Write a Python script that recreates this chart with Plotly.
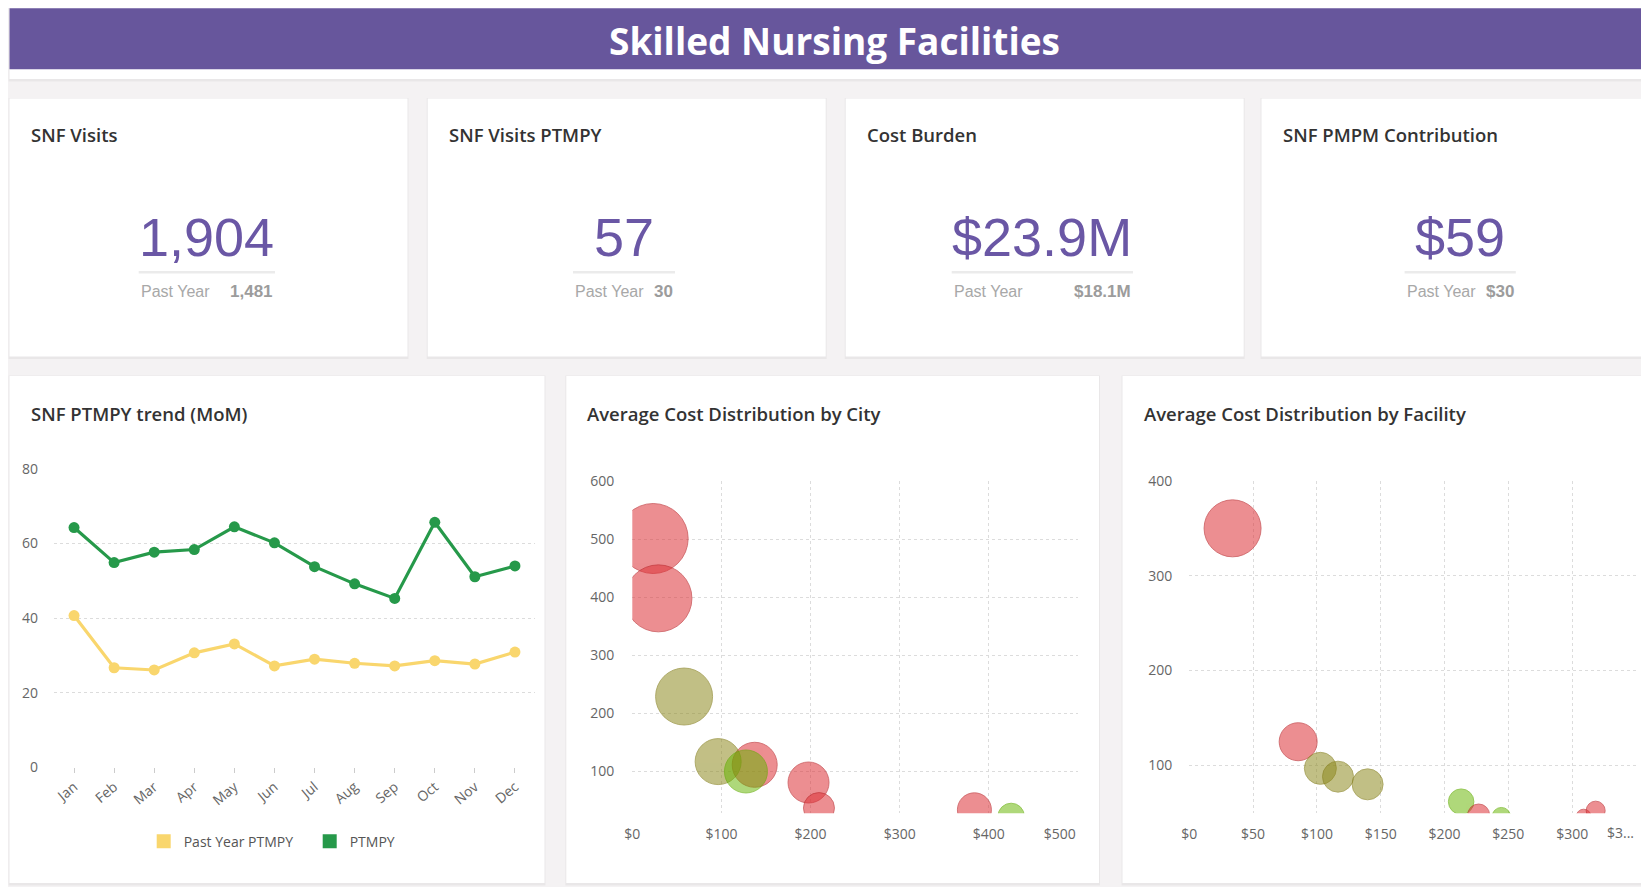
import plotly.graph_objects as go

W, H = 1649, 887
OX, OY = 8, 8  # page body offset of the figure


def px(x):
    return (x - OX) / W


def py(y):
    return 1 - (y - OY) / H


# ---------------- data ----------------
months = ["Jan", "Feb", "Mar", "Apr", "May", "Jun", "Jul", "Aug", "Sep", "Oct", "Nov", "Dec"]
ptmpy = [64.3, 54.9, 57.7, 58.4, 64.5, 60.2, 53.8, 49.2, 45.3, 65.7, 51.1, 54.0]
past_year_ptmpy = [40.7, 26.7, 26.1, 30.7, 33.1, 27.2, 29.0, 27.9, 27.2, 28.6, 27.7, 30.9]

kpi_titles = ["SNF Visits", "SNF Visits PTMPY", "Cost Burden", "SNF PMPM Contribution"]
kpi_values = ["1,904", "57", "$23.9M", "$59"]
kpi_past = ["1,481", "30", "$18.1M", "$30"]

city_cost = [23.4, 29.3, 137.3, 197.7, 209.4, 383.8, 58.1, 96.3, 127.5, 425.0]
city_value = [501, 398, 111.5, 81, 37, 34, 229, 117, 100, 22.6]
city_size = [70, 67, 45, 41, 31, 34, 57, 46, 43, 26.5]
city_tier = ["high", "high", "high", "high", "high", "high", "mid", "mid", "low", "low"]
city_xticks = [0, 100, 200, 300, 400, 500]
city_xlabels = ["$0", "$100", "$200", "$300", "$400", "$500"]
city_yticks = [100, 200, 300, 400, 500, 600]

fac_cost = [33.9, 85.3, 102.7, 116.5, 139.7, 213.0, 226.7, 244.5, 309.0, 318.4]
fac_value = [350, 124.6, 96.5, 87.7, 79.6, 61.3, 47.2, 45.4, 45.4, 51.8]
fac_size = [57, 38, 32, 31, 31, 25.5, 22, 18.5, 15, 19]
fac_tier = ["high", "high", "mid", "mid", "mid", "low", "high", "low", "high", "high"]
fac_xticks = [0, 50, 100, 150, 200, 250, 300, 350]
fac_xlabels = ["$0", "$50", "$100", "$150", "$200", "$250", "$300", "$3..."]
fac_yticks = [100, 200, 300, 400]

# ---------------- styles ----------------
FONT = "Open Sans"
NUMFONT = "Liberation Sans"
PURPLE = "#67569c"
NUMCOL = "#6a57a5"
GREEN = "#26994a"
YELLOW = "#f9d66d"
BG = "#f4f2f3"
TIER_FILL = {"high": "rgba(220,50,55,0.78)", "mid": "rgba(141,135,28,0.76)", "low": "rgba(101,181,0,0.74)"}
TIER_LINE = {"high": "rgba(185,35,40,0.85)", "mid": "rgba(130,124,25,0.85)", "low": "rgba(95,170,0,0.85)"}
GRID = "#dcdcdc"
TICKFONT = dict(family=FONT, size=14, color="#666666")

fig = go.Figure()

# line chart
fig.add_trace(go.Scatter(x=months, y=past_year_ptmpy, mode="lines+markers", name="Past Year PTMPY",
                         line=dict(color=YELLOW, width=3.2), marker=dict(size=11, color=YELLOW),
                         showlegend=False, xaxis="x", yaxis="y"))
fig.add_trace(go.Scatter(x=months, y=ptmpy, mode="lines+markers", name="PTMPY",
                         line=dict(color=GREEN, width=3.2), marker=dict(size=11, color=GREEN),
                         showlegend=False, xaxis="x", yaxis="y"))
# legend entries (square swatches)
fig.add_trace(go.Scatter(x=[None], y=[None], mode="markers", name="Past Year PTMPY",
                         marker=dict(symbol="square", size=14, color=YELLOW), xaxis="x", yaxis="y"))
fig.add_trace(go.Scatter(x=[None], y=[None], mode="markers", name="PTMPY",
                         marker=dict(symbol="square", size=14, color=GREEN), xaxis="x", yaxis="y"))

# bubble charts
fig.add_trace(go.Scatter(x=city_cost, y=city_value, mode="markers", showlegend=False,
                         marker=dict(size=city_size, color=[TIER_FILL[t] for t in city_tier],
                                     line=dict(width=1, color=[TIER_LINE[t] for t in city_tier])),
                         xaxis="x2", yaxis="y2"))
fig.add_trace(go.Scatter(x=fac_cost, y=fac_value, mode="markers", showlegend=False,
                         marker=dict(size=fac_size, color=[TIER_FILL[t] for t in fac_tier],
                                     line=dict(width=1, color=[TIER_LINE[t] for t in fac_tier])),
                         xaxis="x3", yaxis="y3"))

# ---------------- shapes ----------------
shapes = []


def card(x0, y0, x1, y1):
    shapes.append(dict(type="rect", xref="paper", yref="paper", x0=px(x0 - 1), x1=px(x1 + 1),
                       y0=py(y1 + 2.5), y1=py(y0 - 0.5), fillcolor="rgba(0,0,0,0.045)",
                       line=dict(width=0), layer="below"))
    shapes.append(dict(type="rect", xref="paper", yref="paper", x0=px(x0), x1=px(x1),
                       y0=py(y1), y1=py(y0), fillcolor="white", line=dict(width=0), layer="below"))


# header
card(9.5, -6, 1665, 79)
shapes.append(dict(type="rect", xref="paper", yref="paper", x0=px(9.5), x1=px(1665),
                   y0=py(69.3), y1=py(8.3), fillcolor=PURPLE, line=dict(width=0), layer="below"))

top_cards = [(9.5, 407.5), (427.7, 825.7), (845.7, 1243.7), (1261.5, 1659.5)]
for (a, b) in top_cards:
    card(a, 98.5, b, 356.5)

bottom_cards = [(9.5, 544.5), (566.3, 1099), (1122.5, 1665)]
for (a, b) in bottom_cards:
    card(a, 376, b, 883)

# KPI underline extents (left, right)
under = [(138.7, 275.0), (573.0, 675.0), (951.7, 1133.0), (1404.6, 1515.8)]
for (a, b) in under:
    shapes.append(dict(type="rect", xref="paper", yref="paper", x0=px(a), x1=px(b),
                       y0=py(273.6), y1=py(271.0), fillcolor="#ebebeb", line=dict(width=0), layer="below"))

# ---------------- annotations ----------------
ann = []
ann.append(dict(text="Skilled Nursing Facilities", x=px(834.5), y=py(40), xref="paper", yref="paper",
                xanchor="center", yanchor="middle", showarrow=False,
                font=dict(family=FONT, size=37, color="white", weight=700)))

for i, (a, b) in enumerate(top_cards):
    ann.append(dict(text=kpi_titles[i], x=px(a + 19), y=py(134.8), xref="paper", yref="paper",
                    xanchor="left", yanchor="middle", showarrow=False,
                    font=dict(family=FONT, size=18.5, color="#333333", weight=600)))
    cx = (under[i][0] + under[i][1]) / 2
    ann.append(dict(text=kpi_values[i], x=px(cx), y=py(237.5), xref="paper", yref="paper",
                    xanchor="center", yanchor="middle", showarrow=False,
                    font=dict(family=NUMFONT, size=54, color=NUMCOL)))
    ann.append(dict(text="Past Year", x=px(under[i][0]), y=py(291.5), xref="paper", yref="paper",
                    xanchor="left", yanchor="middle", showarrow=False,
                    font=dict(family=NUMFONT, size=16, color="#a8a8a8")))
    ann.append(dict(text="<b>" + kpi_past[i] + "</b>", x=px(under[i][1]), y=py(291.5), xref="paper",
                    yref="paper", xanchor="right", yanchor="middle", showarrow=False,
                    font=dict(family=NUMFONT, size=17, color="#9c9c9c")))

chart_titles = ["SNF PTMPY trend (MoM)", "Average Cost Distribution by City",
                "Average Cost Distribution by Facility"]
for i, (a, b) in enumerate(bottom_cards):
    ann.append(dict(text=chart_titles[i], x=px(a + 19), y=py(413.5), xref="paper", yref="paper",
                    xanchor="left", yanchor="middle", showarrow=False,
                    font=dict(family=FONT, size=18.5, color="#333333", weight=600)))

# last (truncated) facility tick label, pulled inside the card as in the source
ann.append(dict(text=fac_xlabels[-1], x=fac_xticks[-1] - 12, xref="x3", y=py(832.8), yref="paper",
                xanchor="center", yanchor="middle", showarrow=False, font=TICKFONT))

NB = "\u00a0"

fig.update_layout(
    width=W, height=H, margin=dict(l=0, r=0, t=0, b=0, pad=0, autoexpand=False),
    paper_bgcolor=BG, plot_bgcolor="rgba(0,0,0,0)",
    font=dict(family=FONT, color="#555555"),
    shapes=shapes, annotations=ann,
    showlegend=True,
    legend=dict(orientation="h", x=px(143.7), y=py(841.7), xanchor="left", yanchor="middle",
                font=dict(family=FONT, size=14, color="#555555"), bgcolor="rgba(0,0,0,0)",
                itemclick=False, itemdoubleclick=False, entrywidth=121, entrywidthmode="pixels"),
    xaxis=dict(domain=[px(54), px(535)], anchor="y", type="category", categoryorder="array",
               categoryarray=months, range=[-0.5, 11.5], showgrid=False, zeroline=False,
               showline=False, ticks="outside", ticklen=5, tickcolor="#cccccc", tickangle=-40,
               tickfont=TICKFONT, fixedrange=True, automargin=False),
    yaxis=dict(domain=[py(767.3), py(469)], anchor="x", range=[0, 80], dtick=20, showgrid=True,
               gridcolor=GRID, griddash="dot", zeroline=False, showline=False, tickfont=TICKFONT,
               ticklabelstandoff=15, fixedrange=True, automargin=False),
    xaxis2=dict(domain=[px(632.3), px(1078)], anchor="y2", range=[0, 500], tickvals=city_xticks,
                ticktext=city_xlabels[:-1] + [city_xlabels[-1] + NB * 10],
                showgrid=True, gridcolor=GRID, griddash="dot", zeroline=False, showline=False,
                tickfont=TICKFONT, ticklabelstandoff=11, ticklabeloverflow="allow",
                fixedrange=True, automargin=False),
    yaxis2=dict(domain=[py(813.3), py(481)], anchor="x2", range=[28, 600], tickvals=city_yticks,
                showgrid=True, gridcolor=GRID, griddash="dot", zeroline=False, showline=False,
                tickfont=TICKFONT, ticklabelstandoff=17, fixedrange=True, automargin=False),
    xaxis3=dict(domain=[px(1189.3), px(1636)], anchor="y3", range=[0, 350], tickvals=fac_xticks,
                ticktext=fac_xlabels[:-1] + [""],
                showgrid=True, gridcolor=GRID, griddash="dot", zeroline=False, showline=False,
                tickfont=TICKFONT, ticklabelstandoff=11, ticklabeloverflow="allow",
                fixedrange=True, automargin=False),
    yaxis3=dict(domain=[py(813.3), py(481)], anchor="x3", range=[49, 400], tickvals=fac_yticks,
                showgrid=True, gridcolor=GRID, griddash="dot", zeroline=False, showline=False,
                tickfont=TICKFONT, ticklabelstandoff=16, fixedrange=True, automargin=False),
)

fig.write_html("out.html")
